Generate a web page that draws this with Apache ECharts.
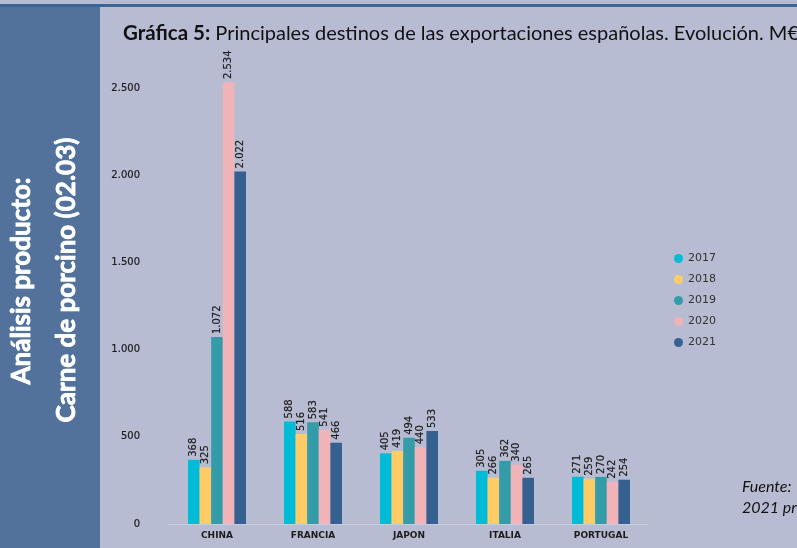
<!DOCTYPE html>
<html>
<head>
<meta charset="utf-8">
<script src="https://cdn.jsdelivr.net/npm/echarts@6/dist/echarts.min.js"></script>
<style>
  html, body { margin: 0; padding: 0; background: #b8bcd3; }
  #chart { width: 797px; height: 548px; }
</style>
</head>
<body>
<div id="chart"></div>
<script>
// datos de la gráfica (M€)
var paises = ['CHINA', 'FRANCIA', 'JAPON', 'ITALIA', 'PORTUGAL'];
var anios = ['2017', '2018', '2019', '2020', '2021'];
var v2017 = [368, 588, 405, 305, 271];
var v2018 = [325, 516, 419, 266, 259];
var v2019 = [1072, 583, 494, 362, 270];
var v2020 = [2534, 541, 440, 340, 242];
var v2021 = [2022, 466, 533, 265, 254];
var valores = [v2017, v2018, v2019, v2020, v2021];
var colores = ['#00bcd6', '#ffcc66', '#339ca8', '#f0b4b8', '#36608f'];
var ticksY = [0, 500, 1000, 1500, 2000, 2500];

function miles(v) {
  return String(v).replace(/\B(?=(\d{3})+(?!\d))/g, '.');
}

var ec = echarts.init(document.getElementById('chart'));

var series = anios.map(function (a, i) {
  return {
    name: a,
    type: 'bar',
    data: valores[i],
    barWidth: 11.6,
    barGap: '0%',
    itemStyle: { color: colores[i] },
    label: {
      show: true,
      position: 'top',
      rotate: 90,
      align: 'left',
      verticalAlign: 'middle',
      distance: 3,
      fontFamily: 'DejaVu Sans',
      fontSize: 10,
      color: '#1c1c1c',
      textBorderColor: '#1c1c1c',
      textBorderWidth: 0.2,
      formatter: function (p) { return miles(p.value); }
    }
  };
});

var option = {
  backgroundColor: '#b8bcd3',
  animation: false,
  title: {
    text: '{b|Gráfica 5:} Principales destinos de las exportaciones españolas. Evolución. M€',
    left: 118,
    top: 18,
    textStyle: {
      fontFamily: 'Lato',
      fontSize: 20,
      fontWeight: 'normal',
      color: '#111',
      rich: {
        b: { fontFamily: 'Lato', fontSize: 20.5, fontWeight: 'bold', color: '#111' }
      }
    }
  },
  legend: {
    data: anios,
    orient: 'vertical',
    left: 669,
    top: 248,
    icon: 'circle',
    itemWidth: 9,
    itemHeight: 9,
    itemGap: 10,
    itemTextGap: 2,
    textStyle: { fontFamily: 'DejaVu Sans', fontSize: 11, color: '#333' }
  },
  grid: { left: 169, right: 148, top: 70.6, bottom: 24 },
  xAxis: {
    type: 'category',
    data: paises,
    axisTick: { show: false },
    axisLine: { lineStyle: { color: '#cdd0df', type: 'dotted', width: 1 } },
    axisLabel: {
      fontFamily: 'DejaVu Sans',
      fontWeight: 'bold',
      fontSize: 9,
      color: '#1c1c1c',
      margin: 7
    }
  },
  yAxis: {
    type: 'value',
    min: 0,
    max: 2600,
    interval: 500,
    splitLine: { show: false },
    axisLine: { show: false },
    axisTick: { show: false },
    axisLabel: {
      showMaxLabel: false,
      margin: 29,
      fontFamily: 'DejaVu Sans',
      fontSize: 10,
      color: '#1c1c1c',
      textBorderColor: '#1c1c1c',
      textBorderWidth: 0.2,
      formatter: function (v) { return ticksY.indexOf(v) >= 0 ? miles(v) : ''; }
    }
  },
  series: series,
  graphic: [
    { type: 'rect', shape: { x: 0, y: 4, width: 797, height: 3 }, style: { fill: '#3c6494' }, silent: true },
    { type: 'rect', shape: { x: 0, y: 7, width: 100, height: 541 }, style: { fill: '#52729c' }, silent: true },
    {
      type: 'text', x: 22, y: 281, rotation: Math.PI / 2,
      style: {
        text: 'Análisis producto:', fill: '#fff', font: 'bold 26px Lato',
        stroke: '#fff', lineWidth: 0.8,
        align: 'center', verticalAlign: 'middle'
      }
    },
    {
      type: 'text', x: 67, y: 280, rotation: Math.PI / 2,
      style: {
        text: 'Carne de porcino (02.03)', fill: '#fff', font: 'bold 26px Lato',
        stroke: '#fff', lineWidth: 0.8,
        align: 'center', verticalAlign: 'middle'
      }
    },
    {
      type: 'text', x: 742, y: 487,
      style: { text: 'Fuente:', fill: '#111', font: 'italic 16px Lato', verticalAlign: 'middle' }
    },
    {
      type: 'text', x: 742, y: 508,
      style: { text: '2021 provisional', fill: '#111', font: 'italic 16px Lato', verticalAlign: 'middle' }
    }
  ]
};

ec.setOption(option);
window.onresize = function () { ec.resize(); };
</script>
</body>
</html>
